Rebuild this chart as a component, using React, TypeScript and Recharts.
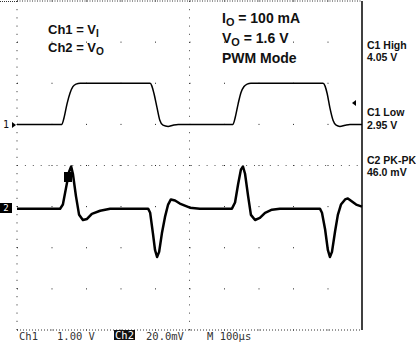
import { LineChart, Line, XAxis, YAxis, CartesianGrid, ReferenceLine } from "recharts";

// time axis, µs (10 div × 100 µs)
const X_TICKS = [0, 100, 200, 300, 400, 500, 600, 700, 800, 900, 1000];
const Y_TICKS = [0, 1, 2, 3, 4, 5, 6, 7, 8];

// Ch1 = VI, volts (1.00 V/div)
const CH1_T = [0, 130, 136, 145, 154, 162, 171, 183, 386, 391, 397, 406, 414, 423, 438, 452, 467,
  626, 632, 641, 649, 658, 667, 678, 887, 893, 899, 907, 916, 925, 936, 951, 965, 1000];
const CH1_V = [2.95, 2.95, 3.1, 3.45, 3.72, 3.87, 3.93, 3.95, 3.95, 3.88, 3.7, 3.35, 3.05, 2.93, 2.9, 2.93, 2.95,
  2.95, 3.1, 3.45, 3.72, 3.87, 3.93, 3.95, 3.95, 3.88, 3.7, 3.35, 3.05, 2.93, 2.9, 2.93, 2.95, 2.95];

// Ch2 = VO ripple, mV (20.0 mV/div)
const CH2_T = [0, 125, 133, 142, 151, 157, 162, 171, 180, 191, 203, 217, 241, 270, 380, 386, 394, 400, 406, 412,
  420, 429, 438, 446, 458, 472, 501, 530, 623, 632, 641, 649, 655, 661, 670, 678, 690, 704, 719, 739,
  762, 878, 884, 893, 901, 907, 913, 922, 930, 939, 951, 959, 971, 983, 1000];
const CH2_MV = [0, 0, 2, 10, 18, 20.5, 17, 6, -3, -5.5, -5, -2.5, -1, 0, 0, -2, -12, -20, -23.5, -21,
  -12, -4, 2, 4.5, 4, 2.5, 0.5, 0, 0, 3, 12, 19, 20.5, 17, 6, -3, -5.5, -4.5, -2, -0.5,
  0, 0, -2, -10, -20, -23.5, -21, -11, -3, 2, 4.5, 5, 3.5, 2, 1];

// screen position of each channel (divisions from bottom)
const CH1_POS = 5, CH1_REF = 2.95, CH1_PER_DIV = 1;
const CH2_POS = 2.95, CH2_PER_DIV = 20;

const ch1 = CH1_T.map((t, i) => ({ t, d: CH1_POS + (CH1_V[i] - CH1_REF) / CH1_PER_DIV }));
const ch2 = CH2_T.map((t, i) => ({ t, d: CH2_POS + CH2_MV[i] / CH2_PER_DIV }));

const SANS = "'Liberation Sans', Arial, sans-serif";
const NARROW = "'Liberation Sans Narrow', 'Arial Narrow', 'Liberation Sans', sans-serif";
const MONO = "'DejaVu Sans Mono', monospace";

function Txt({ x, y, size, font = SANS, bold = true, color = "#111", children }: any) {
  return (
    <div style={{
      position: "absolute", left: x, top: y, fontSize: size, lineHeight: 1,
      fontFamily: font, fontWeight: bold ? 700 : 400, color, whiteSpace: "nowrap",
    }}>
      {children}
    </div>
  );
}

const Sub = ({ children }: any) => (
  <span style={{ fontSize: "0.78em", position: "relative", top: "0.3em" }}>{children}</span>
);

export default function App() {
  return (
    <div style={{ position: "absolute", left: 0, top: 0, width: 416, height: 347, background: "#fff", overflow: "hidden" }}>
      <LineChart width={416} height={347} data={ch1} margin={{ top: 1, right: 54, bottom: 17, left: 17 }}>
        <XAxis type="number" dataKey="t" domain={[0, 1000]} ticks={X_TICKS} hide />
        <YAxis type="number" domain={[0, 8]} ticks={Y_TICKS} hide />
        <CartesianGrid horizontal vertical={false} stroke="#222" strokeDasharray="1 33.5" />
        <ReferenceLine x={500} stroke="#444" strokeDasharray="1 7.2" />
        <ReferenceLine y={4} stroke="#555" strokeDasharray="1 6.9" />
        <ReferenceLine x={0} stroke="#222" strokeDasharray="1 7.2" />
        <ReferenceLine y={8} stroke="#333" strokeDasharray="1 1.5" />
        <ReferenceLine y={0} stroke="#333" strokeDasharray="1 2" />
        <ReferenceLine x={1000} stroke="#000" strokeWidth={1.5} />
        <Line data={ch1} dataKey="d" type="monotone" stroke="#000" strokeWidth={1.5}
          dot={false} isAnimationActive={false} />
        <Line data={ch2} dataKey="d" type="linear" stroke="#000" strokeWidth={2.5}
          strokeLinejoin="round" dot={false} isAnimationActive={false} />
      </LineChart>

      {/* dotted top edge left of the graticule */}
      <div style={{ position: "absolute", left: 0, top: 1, width: 17, borderTop: "1px dotted #333" }} />

      {/* channel markers */}
      <Txt x={3} y={120} size={10} font={MONO} bold={false}>1</Txt>
      <div style={{ position: "absolute", left: 12, top: 122, width: 0, height: 0,
        borderTop: "3px solid transparent", borderBottom: "3px solid transparent", borderLeft: "4px solid #000" }} />
      <div style={{ position: "absolute", left: 0, top: 203, width: 12, height: 10, background: "#000",
        color: "#fff", fontFamily: MONO, fontSize: 9, lineHeight: "10px", textAlign: "center" }}>2</div>
      <div style={{ position: "absolute", left: 64, top: 172, width: 8, height: 10, background: "#000" }} />
      <div style={{ position: "absolute", left: 352, top: 100, width: 0, height: 0,
        borderTop: "3px solid transparent", borderBottom: "3px solid transparent", borderRight: "4px solid #000" }} />

      <Txt x={48} y={23} size={13}>Ch1 = V<Sub>I</Sub></Txt>
      <Txt x={48} y={41} size={13}>Ch2 = V<Sub>O</Sub></Txt>

      <Txt x={222} y={11} size={14}>I<Sub>O</Sub> = 100 mA</Txt>
      <Txt x={222} y={31} size={14}>V<Sub>O</Sub> = 1.6 V</Txt>
      <Txt x={222} y={51} size={14}>PWM Mode</Txt>

      <Txt x={367} y={40} size={10.5} font={NARROW}>C1 High</Txt>
      <Txt x={367} y={52} size={10.5} font={NARROW}>4.05 V</Txt>
      <Txt x={367} y={107} size={10.5} font={NARROW}>C1 Low</Txt>
      <Txt x={367} y={120} size={10.5} font={NARROW}>2.95 V</Txt>
      <Txt x={367} y={155} size={10.5} font={NARROW}>C2 PK-PK</Txt>
      <Txt x={367} y={167} size={10.5} font={NARROW}>46.0 mV</Txt>

      {/* status line */}
      <Txt x={19} y={331} size={10.5} font={MONO} bold={false} color="#333">Ch1</Txt>
      <Txt x={57} y={331} size={10.5} font={MONO} bold={false} color="#333">1.00 V</Txt>
      <div style={{ position: "absolute", left: 114, top: 330, height: 10, padding: "0 1px", background: "#111",
        color: "#fff", fontFamily: MONO, fontSize: 10.5, lineHeight: "10px" }}>Ch2</div>
      <Txt x={146} y={331} size={10.5} font={MONO} bold={false} color="#333">20.0mV</Txt>
      <Txt x={207} y={331} size={10.5} font={MONO} bold={false} color="#333">M 100µs</Txt>
    </div>
  );
}
